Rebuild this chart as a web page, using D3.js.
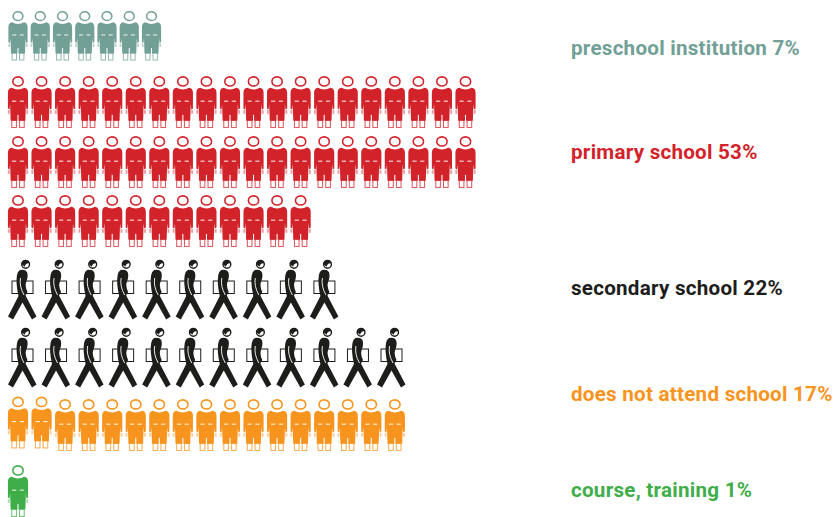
<!DOCTYPE html>
<html>
<head>
<meta charset="utf-8">
<script src="https://cdn.jsdelivr.net/npm/d3@7"></script>
<style>
html, body { margin: 0; padding: 0; background: #fff; }
svg { display: block; }
</style>
</head>
<body>
<div id="chart"></div>
<script>
const WIDTH = 836;
const HEIGHT = 517;

// the five groups
const categories = ["preschool institution", "primary school", "secondary school", "does not attend school", "course, training"];
const percents = [7, 53, 22, 17, 1];

// how the figures wrap: which group each row belongs to, and how many figures it holds
const rowCategory = [0, 1, 1, 1, 2, 2, 3, 4];
const rowCounts = [7, 20, 20, 13, 10, 12, 17, 1];

const color = d3.scaleOrdinal()
    .domain(categories)
    .range(["#72a096", "#d2232a", "#1d1d1b", "#f7941d", "#3fae49"]);

// top of each row of figures
const rowY = d3.scaleOrdinal()
    .domain(d3.range(rowCounts.length))
    .range([11, 76, 136, 195, 259, 327, 399, 465]);

const labelY = d3.scaleOrdinal()
    .domain(categories)
    .range([55, 159, 295, 401, 497]);

// figure centres along a row, each kind of row has its own pitch
const preschoolX = d3.scaleLinear().domain([0, 6]).range([18, 151.5]);
const standX = d3.scaleLinear().domain([0, 19]).range([18, 465.5]);
const walkX = d3.scaleLinear().domain([0, 11]).range([22, 391]);

const svg = d3.select("#chart")
    .append("svg")
    .attr("width", WIDTH)
    .attr("height", HEIGHT);

// one entry per figure
const people = rowCounts.flatMap((n, row) => d3.range(n).map(i => ({
    row: row,
    i: i,
    cat: categories[rowCategory[row]]
})));

function figureX(d) {
    if (d.cat == "secondary school") return walkX(d.i);
    if (d.cat == "preschool institution") return preschoolX(d.i);
    return standX(d.i);
}

const figures = svg.selectAll(".figure")
    .data(people)
    .join("g")
    .attr("class", "figure")
    .attr("transform", d => {
        // first two orange figures stand a little higher in the original
        const lift = (d.cat == "does not attend school" && d.i < 2) ? -2.5 : 0;
        const scale = (d.cat == "preschool institution" || d.cat == "secondary school") ? 1 : 1.05;
        return `translate(${figureX(d)},${rowY(d.row) + lift}) scale(${scale})`;
    })
    .style("color", d => color(d.cat))
    .each(function(d) {
        if (d.cat == "secondary school") drawWalker(d3.select(this));
        else drawStanding(d3.select(this));
    });

// standing figure, origin at top centre of the head
function drawStanding(g) {
    g.append("ellipse")
        .attr("cy", 5.2)
        .attr("rx", 4.9)
        .attr("ry", 4.4)
        .attr("fill", "none")
        .attr("stroke", "currentColor")
        .attr("stroke-width", 1.5);

    g.append("path")
        .attr("fill", "currentColor")
        .attr("d", "M-6,11.3 Q0,14.5 6,11.3 Q9.6,12 9.6,16 L9.6,31 L8,32 L7.5,27 L7,42.5 L-7,42.5 L-7.5,27 L-8,32 L-9.6,31 L-9.6,16 Q-9.6,12 -6,11.3 Z");

    // hands
    g.selectAll(".hand")
        .data([-8.8, 8.8])
        .join("rect")
        .attr("class", "hand")
        .attr("x", d => d - 0.9)
        .attr("y", 32.5)
        .attr("width", 1.8)
        .attr("height", 3.5)
        .attr("fill", "currentColor")
        .attr("opacity", 0.45);

    // waist dashes
    g.selectAll(".dash")
        .data([-3.7, 3.7])
        .join("rect")
        .attr("class", "dash")
        .attr("x", d => d - 2)
        .attr("y", 23.5)
        .attr("width", 4)
        .attr("height", 0.9)
        .attr("fill", "#fff");

    // gap between the legs
    g.append("rect")
        .attr("x", -0.5)
        .attr("y", 37)
        .attr("width", 1)
        .attr("height", 6)
        .attr("fill", "#fff");

    // outlined feet
    g.selectAll(".foot")
        .data([-3.7, 3.7])
        .join("rect")
        .attr("class", "foot")
        .attr("x", d => d - 2.2)
        .attr("y", 42)
        .attr("width", 4.4)
        .attr("height", 7)
        .attr("fill", "none")
        .attr("stroke", "currentColor")
        .attr("stroke-width", 1)
        .attr("opacity", 0.75);
}

// walking figure with a folder, origin at top centre of the figure
function drawWalker(g) {
    // folder, sits behind the body
    g.append("rect")
        .attr("x", -10)
        .attr("y", 22)
        .attr("width", 21)
        .attr("height", 12.5)
        .attr("fill", "#fff")
        .attr("stroke", "currentColor")
        .attr("stroke-width", 1);

    g.append("circle")
        .attr("cx", 3.6)
        .attr("cy", 5.3)
        .attr("r", 3.9)
        .attr("fill", "#fff")
        .attr("stroke", "currentColor")
        .attr("stroke-width", 1.4);
    g.append("path")
        .attr("fill", "currentColor")
        .attr("d", "M-0.3,5.3 A3.9,3.9 0 0 1 7.4,4.4 Q3.8,3.4 2.6,7.8 Z");

    // body and legs
    g.append("path")
        .attr("fill", "currentColor")
        .attr("d", "M-2,11 Q3,9.8 5,13 Q6.5,17 4.5,22 Q2.5,27 5.5,33 L3.5,36.5 L14.5,57.5 L10,60.5 L0.5,43.5 L-9,60.5 L-14,57.5 L-3.5,37 Q-6.5,24 -5,16 Q-4.5,12.5 -2,11 Z");

    // white line that parts the arm from the body
    g.append("path")
        .attr("fill", "none")
        .attr("stroke", "#fff")
        .attr("stroke-width", 0.9)
        .attr("d", "M-1.5,19 Q-3,27 2,36");
}

const labels = svg.selectAll(".label")
    .data(categories)
    .join("text")
    .attr("class", "label")
    .attr("x", 571)
    .attr("y", d => labelY(d))
    .attr("fill", d => color(d))
    .style("font-family", "Roboto, sans-serif")
    .style("font-weight", 700)
    .style("font-size", "20.6px")
    .style("letter-spacing", "0.25px")
    .text((d, i) => `${d} ${percents[i]}%`);
</script>
</body>
</html>
